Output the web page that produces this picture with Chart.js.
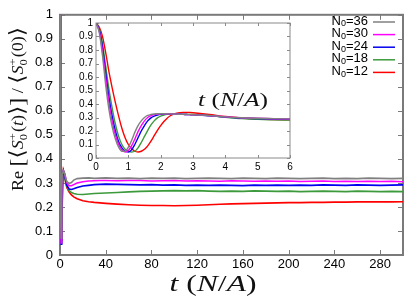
<!DOCTYPE html>
<html>
<head>
<meta charset="utf-8">
<script src="https://cdn.jsdelivr.net/npm/chart.js@4.4.0/dist/chart.umd.min.js"></script>
<style>
  html, body { margin: 0; padding: 0; background: #fff; }
  #wrap { position: relative; width: 416px; height: 298px; }
  #main { position: absolute; left: 0; top: 0; }
  #inset { position: absolute; left: 66px; top: 14px; }
</style>
</head>
<body>
<div id="wrap">
  <canvas id="main" width="416" height="298"></canvas>
  <canvas id="inset" width="232" height="160"></canvas>
</div>
<script>
// series order follows the legend: N0 = 36, 30, 24, 18, 12
const sizes = ['36', '30', '24', '18', '12'];
const colors = ['#808080', '#ff00ff', '#0000ee', '#3c9a3c', '#ff0000'];

// main panel, long times
const mainTime = [0, 0.5, 1, 1.5, 2, 3, 4, 5, 6, 8, 10, 12, 15, 20, 25, 30, 35,
  40, 50, 60, 70, 80, 90, 100, 110, 120, 130, 140, 150, 160, 170, 180, 190, 200,
  210, 220, 230, 240, 250, 260, 270, 280, 290, 300];
const mainN36 = [1, 0.2, 0.07, 0.28, 0.34, 0.35, 0.34, 0.32, 0.305, 0.298, 0.302, 0.312, 0.318, 0.32, 0.321, 0.319, 0.32,
  0.321, 0.319, 0.32, 0.318, 0.32, 0.319, 0.32, 0.318, 0.319, 0.32, 0.319, 0.318, 0.32, 0.319, 0.318, 0.32, 0.319,
  0.318, 0.319, 0.32, 0.318, 0.319, 0.318, 0.32, 0.319, 0.318, 0.319];
const mainN30 = [1, 0.26, 0.05, 0.22, 0.33, 0.35, 0.34, 0.32, 0.3, 0.288, 0.288, 0.293, 0.3, 0.305, 0.308, 0.309, 0.31,
  0.31, 0.309, 0.31, 0.31, 0.308, 0.309, 0.31, 0.308, 0.309, 0.308, 0.307, 0.309, 0.308, 0.307, 0.308, 0.307, 0.308,
  0.306, 0.307, 0.308, 0.306, 0.307, 0.306, 0.307, 0.306, 0.307, 0.305];
const mainN24 = [1, 0.3, 0.045, 0.19, 0.32, 0.35, 0.335, 0.31, 0.29, 0.275, 0.273, 0.276, 0.281, 0.287, 0.29, 0.293, 0.294,
  0.295, 0.294, 0.293, 0.292, 0.293, 0.291, 0.292, 0.29, 0.291, 0.29, 0.291, 0.29, 0.289, 0.291, 0.29, 0.291, 0.29,
  0.291, 0.29, 0.292, 0.291, 0.29, 0.292, 0.291, 0.29, 0.291, 0.292];
const mainN18 = [1, 0.35, 0.05, 0.12, 0.3, 0.35, 0.33, 0.3, 0.285, 0.268, 0.26, 0.256, 0.253, 0.252, 0.254, 0.256, 0.257,
  0.258, 0.26, 0.263, 0.265, 0.266, 0.267, 0.268, 0.267, 0.268, 0.266, 0.265, 0.266, 0.265, 0.267, 0.266, 0.265, 0.266,
  0.264, 0.265, 0.266, 0.265, 0.264, 0.266, 0.265, 0.264, 0.265, 0.264];
const mainN12 = [1, 0.5, 0.1, 0.06, 0.22, 0.35, 0.335, 0.3, 0.28, 0.262, 0.25, 0.242, 0.234, 0.226, 0.222, 0.219, 0.217,
  0.215, 0.212, 0.209, 0.207, 0.206, 0.206, 0.205, 0.206, 0.207, 0.209, 0.211, 0.213, 0.214, 0.215, 0.216, 0.217, 0.218,
  0.218, 0.219, 0.219, 0.22, 0.22, 0.221, 0.221, 0.222, 0.221, 0.222];

// inset, short times
const insetTime = [0, 0.1, 0.2, 0.3, 0.4, 0.5, 0.6, 0.7, 0.8, 0.9, 1.0, 1.1, 1.2, 1.3, 1.4, 1.5, 1.6, 1.7, 1.8, 1.9,
  2.0, 2.1, 2.2, 2.3, 2.4, 2.5, 2.6, 2.7, 2.8, 2.9, 3.0, 3.5, 4, 4.5, 5, 5.5, 6];
const insetN36 = [1, 0.93, 0.76, 0.54, 0.36, 0.23, 0.14, 0.08, 0.05, 0.05, 0.08, 0.13, 0.19, 0.24, 0.275, 0.3, 0.315,
  0.322, 0.326, 0.328, 0.328, 0.328, 0.327, 0.327, 0.326, 0.325, 0.324, 0.323, 0.322, 0.321, 0.32, 0.315, 0.305,
  0.298, 0.294, 0.292, 0.29];
const insetN30 = [1, 0.94, 0.79, 0.59, 0.41, 0.27, 0.17, 0.1, 0.06, 0.045, 0.055, 0.09, 0.14, 0.195, 0.24, 0.275, 0.3,
  0.313, 0.321, 0.325, 0.327, 0.328, 0.328, 0.327, 0.326, 0.325, 0.324, 0.323, 0.322, 0.321, 0.32, 0.314, 0.305,
  0.298, 0.294, 0.291, 0.289];
const insetN24 = [1, 0.95, 0.82, 0.63, 0.45, 0.31, 0.2, 0.12, 0.075, 0.05, 0.045, 0.06, 0.1, 0.15, 0.2, 0.24, 0.275,
  0.297, 0.31, 0.318, 0.323, 0.326, 0.327, 0.327, 0.326, 0.325, 0.324, 0.323, 0.322, 0.321, 0.32, 0.313, 0.303,
  0.296, 0.292, 0.289, 0.287];
const insetN18 = [1, 0.96, 0.85, 0.68, 0.51, 0.37, 0.25, 0.16, 0.1, 0.065, 0.05, 0.045, 0.05, 0.075, 0.115, 0.16, 0.205,
  0.245, 0.275, 0.297, 0.31, 0.318, 0.323, 0.326, 0.327, 0.327, 0.326, 0.325, 0.324, 0.323, 0.322, 0.314, 0.302,
  0.292, 0.286, 0.283, 0.281];
const insetN12 = [1, 0.97, 0.9, 0.78, 0.64, 0.52, 0.41, 0.31, 0.22, 0.15, 0.1, 0.07, 0.05, 0.045, 0.05, 0.065, 0.09,
  0.125, 0.165, 0.205, 0.24, 0.27, 0.295, 0.313, 0.325, 0.332, 0.336, 0.338, 0.338, 0.337, 0.335, 0.322, 0.307,
  0.296, 0.289, 0.285, 0.283];

const mainXTicks = [0, 40, 80, 120, 160, 200, 240, 280];
const yTicks = [0, 0.1, 0.2, 0.3, 0.4, 0.5, 0.6, 0.7, 0.8, 0.9, 1];
const insetXTicks = [0, 1, 2, 3, 4, 5, 6];

const mainSeries = [mainN36, mainN30, mainN24, mainN18, mainN12];
const insetSeries = [insetN36, insetN30, insetN24, insetN18, insetN12];

const SANS = '"Liberation Sans", Arial, sans-serif';
const SERIF = '"Liberation Serif", "DejaVu Serif", serif';

function yLabel(v) {
  if (v === 0) return '0';
  if (v === 1) return '1';
  return v.toFixed(1);
}

function toPoints(xs, ys) {
  return xs.map((x, i) => ({ x: x, y: ys[i] }));
}

// draws a run of text pieces with different fonts, centred on cx, baseline cy;
// the run is stretched sideways to targetWidth
function drawRich(ctx, parts, cx, cy, targetWidth) {
  ctx.save();
  ctx.textBaseline = 'alphabetic';
  ctx.textAlign = 'left';
  let w = 0;
  parts.forEach(p => {
    ctx.font = p.f;
    if (p.stack) {
      p.w = Math.max(...p.stack.map(s => ctx.measureText(s).width)) + 1;
    } else {
      p.w = ctx.measureText(p.t).width;
    }
    w += p.w;
  });
  const k = targetWidth ? targetWidth / w : 1;
  ctx.translate(cx, cy);
  ctx.scale(k, 1);
  let x = -w / 2;
  parts.forEach(p => {
    ctx.font = p.f;
    if (p.stack) {
      ctx.fillText(p.stack[0], x, 4);
      ctx.fillText(p.stack[1], x, -7);
    } else {
      ctx.fillText(p.t, x, p.dy || 0);
    }
    x += p.w;
  });
  ctx.restore();
}

function drawFrame(ctx, a, xs, ys, xTicks, tickLen, frameWidth, color) {
  ctx.save();
  ctx.strokeStyle = color;
  ctx.lineWidth = 1;
  ctx.beginPath();
  xTicks.forEach(v => {
    const px = Math.round(xs.getPixelForValue(v)) + 0.5;
    ctx.moveTo(px, a.bottom); ctx.lineTo(px, a.bottom - tickLen);
    ctx.moveTo(px, a.top); ctx.lineTo(px, a.top + tickLen);
  });
  yTicks.forEach(v => {
    const py = Math.round(ys.getPixelForValue(v)) + 0.5;
    ctx.moveTo(a.left, py); ctx.lineTo(a.left + tickLen, py);
    ctx.moveTo(a.right, py); ctx.lineTo(a.right - tickLen, py);
  });
  ctx.stroke();
  ctx.lineWidth = frameWidth;
  ctx.strokeRect(a.left, a.top, a.right - a.left, a.bottom - a.top);
  ctx.restore();
}

function axisTitle(size) {
  const r = size + 'px ' + SERIF, i = 'italic ' + size + 'px ' + SERIF;
  return [
    { t: 't', f: i },
    { t: ' (', f: r },
    { t: 'N', f: i },
    { t: '/', f: r },
    { t: 'A', f: i },
    { t: ')', f: r }
  ];
}

const mainDecor = {
  id: 'mainDecor',
  beforeDatasetsDraw(chart) {
    const { ctx, chartArea, scales } = chart;
    drawFrame(ctx, chartArea, scales.x, scales.y, mainXTicks, 5, 2, '#7a7a7a');
  },
  afterDraw(chart) {
    const ctx = chart.ctx;
    // legend
    ctx.save();
    ctx.fillStyle = '#000';
    ctx.textBaseline = 'middle';
    sizes.forEach((s, i) => {
      const y = 21 + i * 12.6;
      ctx.font = '13px ' + SANS;
      const wN = ctx.measureText('N').width;
      const wRest = ctx.measureText('=' + s).width;
      ctx.font = '9px ' + SANS;
      const wSub = ctx.measureText('0').width;
      let x = 368 - (wN + wSub + wRest);
      ctx.font = '13px ' + SANS;
      ctx.fillText('N', x, y);
      x += wN;
      ctx.font = '9px ' + SANS;
      ctx.fillText('0', x, y + 3);
      x += wSub;
      ctx.font = '13px ' + SANS;
      ctx.fillText('=' + s, x, y);
      ctx.strokeStyle = colors[i];
      ctx.lineWidth = 1.5;
      ctx.beginPath();
      ctx.moveTo(373, y + 1);
      ctx.lineTo(395, y + 1);
      ctx.stroke();
    });
    ctx.restore();

    // x title
    ctx.save();
    ctx.fillStyle = '#111';
    drawRich(ctx, axisTitle(23), 213, 291, 87);
    ctx.restore();

    // y title, rotated
    ctx.save();
    ctx.fillStyle = '#111';
    ctx.translate(23, 109);
    ctx.rotate(-Math.PI / 2);
    const b = '16px ' + SERIF, it = 'italic 16px ' + SERIF, big = '21px ' + SERIF, sm = '11px ' + SERIF;
    drawRich(ctx, [
      { t: 'Re ', f: b },
      { t: '[', f: big, dy: 1 },
      { t: '⟨', f: big, dy: 1 },
      { t: 'S', f: it },
      { stack: ['0', '+'], f: sm },
      { t: '(', f: b },
      { t: 't', f: it },
      { t: ')', f: b },
      { t: '⟩', f: big, dy: 1 },
      { t: ']', f: big, dy: 1 },
      { t: ' / ', f: b },
      { t: '⟨', f: big, dy: 1 },
      { t: 'S', f: it },
      { stack: ['0', '+'], f: sm },
      { t: '(0)', f: b },
      { t: '⟩', f: big, dy: 1 }
    ], 0, 0, 164);
    ctx.restore();
  }
};

const insetDecor = {
  id: 'insetDecor',
  beforeDraw(chart) {
    const { ctx, chartArea: a } = chart;
    ctx.save();
    ctx.fillStyle = '#fff';
    ctx.fillRect(a.left, a.top, a.right - a.left, a.bottom - a.top);
    ctx.restore();
  },
  beforeDatasetsDraw(chart) {
    const { ctx, chartArea, scales } = chart;
    drawFrame(ctx, chartArea, scales.x, scales.y, insetXTicks, 3, 1, '#8a8a8a');
  },
  afterDraw(chart) {
    const ctx = chart.ctx;
    ctx.save();
    ctx.fillStyle = '#111';
    drawRich(ctx, axisTitle(18), 167, 92, 70);
    ctx.restore();
  }
};

function makeDatasets(xs, series, width, smooth) {
  return series.map((ys, i) => ({
    label: 'N0=' + sizes[i],
    data: toPoints(xs, ys),
    borderColor: colors[i],
    borderWidth: width,
    pointRadius: 0,
    fill: false,
    tension: smooth ? 0.4 : 0,
    cubicInterpolationMode: smooth ? 'monotone' : 'default',
    order: i
  }));
}

function axisOpts(min, max, ticks, fontSize, pad, fitKey, fitVal, cb) {
  return {
    type: 'linear',
    min: min,
    max: max,
    afterBuildTicks: s => { s.ticks = ticks.map(v => ({ value: v })); },
    afterFit: s => { s[fitKey] = fitVal; },
    ticks: {
      font: { family: SANS, size: fontSize },
      color: '#000',
      padding: pad,
      maxRotation: 0,
      autoSkip: false,
      callback: cb
    },
    grid: { display: false, drawTicks: false },
    border: { display: false }
  };
}

new Chart(document.getElementById('main'), {
  type: 'line',
  data: { datasets: makeDatasets(mainTime, mainSeries, 1.6, false) },
  options: {
    responsive: false,
    animation: false,
    devicePixelRatio: 1,
    layout: { padding: { top: 9, right: 13, left: 0, bottom: 0 } },
    plugins: { legend: { display: false }, tooltip: { enabled: false } },
    scales: {
      x: axisOpts(0, 300, mainXTicks, 13, 2, 'height', 43, v => String(v)),
      y: axisOpts(0, 1, yTicks, 13, 7, 'width', 60, v => yLabel(v))
    }
  },
  plugins: [mainDecor]
});

new Chart(document.getElementById('inset'), {
  type: 'line',
  data: { datasets: makeDatasets(insetTime, insetSeries, 1.4, true) },
  options: {
    responsive: false,
    animation: false,
    devicePixelRatio: 1,
    layout: { padding: { top: 8, right: 8, left: 0, bottom: 0 } },
    plugins: { legend: { display: false }, tooltip: { enabled: false } },
    scales: {
      x: axisOpts(0, 6, insetXTicks, 10, 3, 'height', 16, v => String(v)),
      y: axisOpts(0, 1, yTicks, 10, 3, 'width', 30, v => yLabel(v))
    }
  },
  plugins: [insetDecor]
});
</script>
</body>
</html>
